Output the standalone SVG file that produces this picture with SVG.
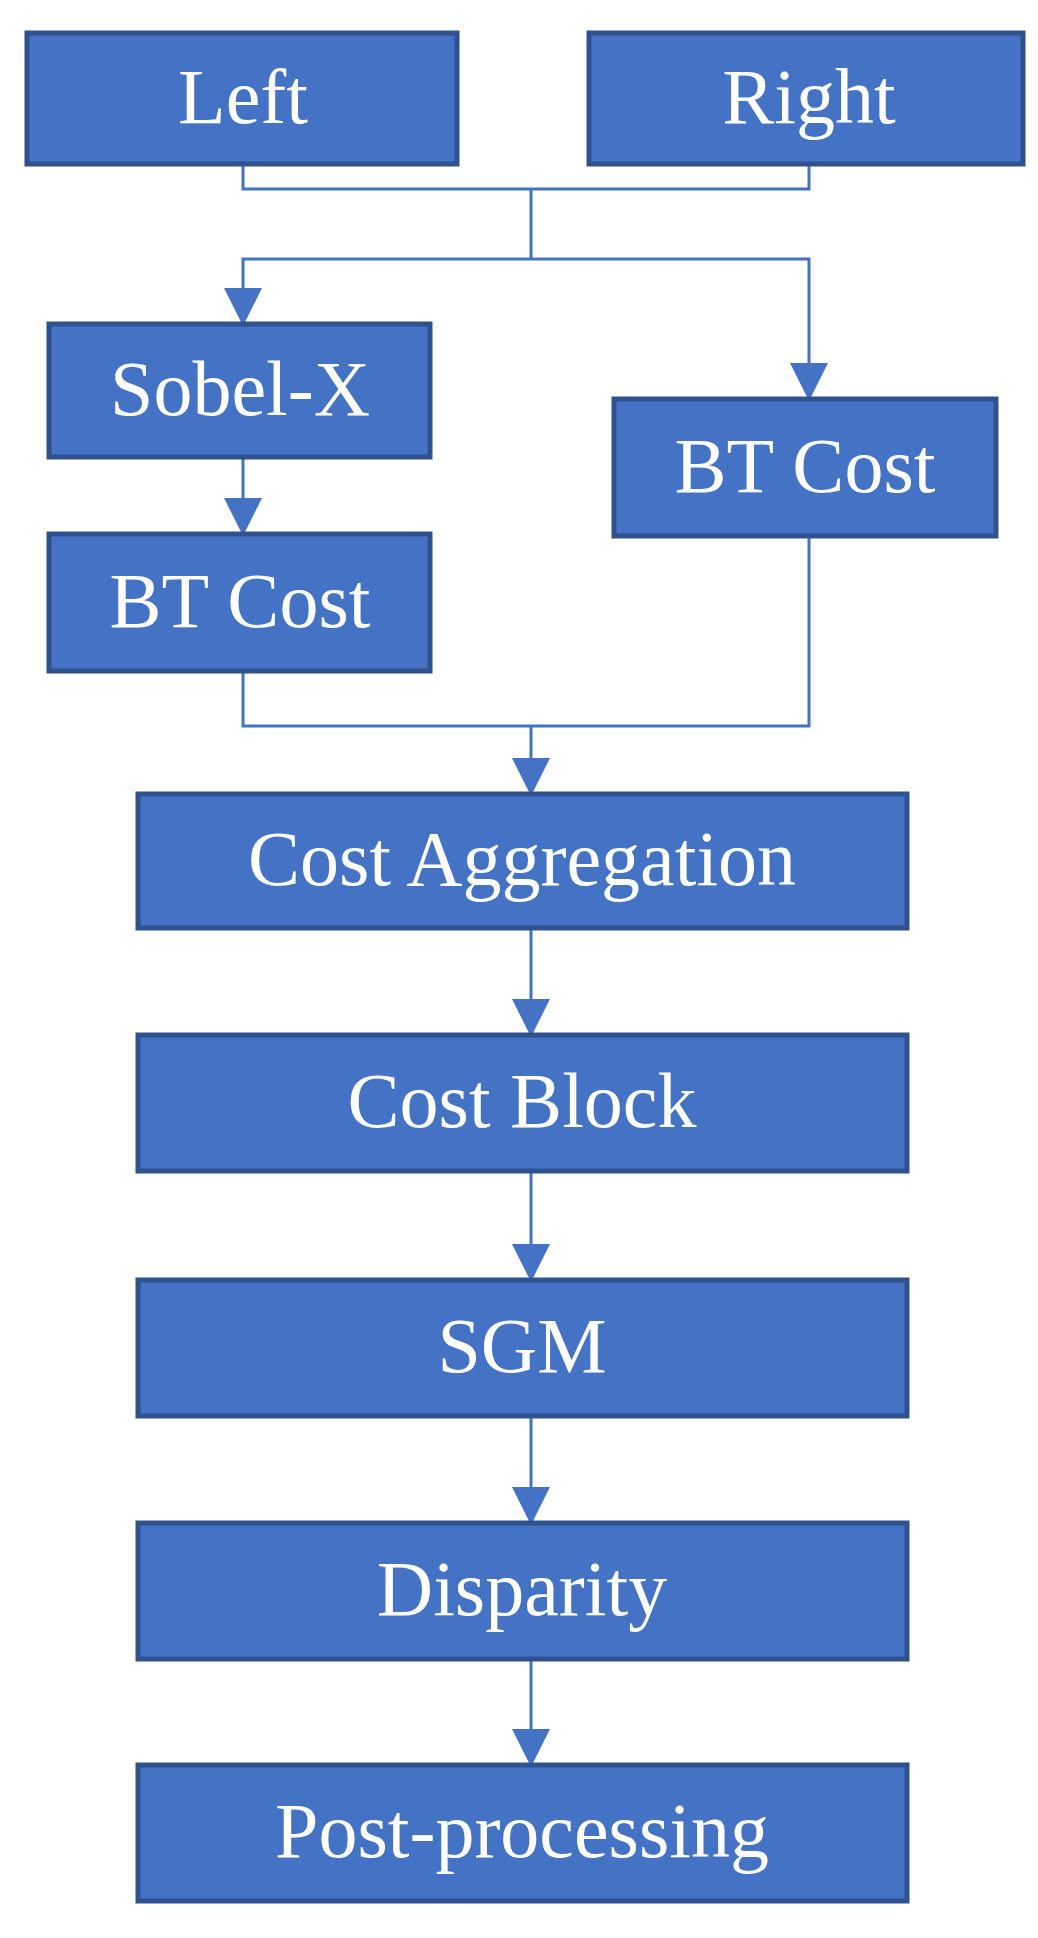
<svg xmlns="http://www.w3.org/2000/svg" width="1038" height="1938" viewBox="0 0 1038 1938">
<style>
.n rect{fill:#4472C4;stroke:#2F528F;stroke-width:5}
.n text{fill:#fff;font-family:"Liberation Serif","DejaVu Serif",serif;font-size:78px;text-anchor:middle;dominant-baseline:central}
.c path{fill:none;stroke:#4472C4;stroke-width:3}
</style>
<defs><marker id="a" markerUnits="userSpaceOnUse" markerWidth="40" markerHeight="40" refX="36" refY="19" orient="auto"><path d="M0,0 L38,19 L0,38 Z" fill="#4472C4"/></marker></defs>
<rect width="1038" height="1938" fill="#fff"/>
<g class="c">
<path d="M243,164 V189 H809 V164"/>
<path d="M531,189 V259"/>
<path d="M531,259 H243 V324" marker-end="url(#a)"/>
<path d="M531,259 H809 V399" marker-end="url(#a)"/>
<path d="M243,457 V534" marker-end="url(#a)"/>
<path d="M243,671 V726 H809 V536"/>
<path d="M531,726 V794" marker-end="url(#a)"/>
<path d="M531,928 V1035" marker-end="url(#a)"/>
<path d="M531,1171 V1280" marker-end="url(#a)"/>
<path d="M531,1416 V1523" marker-end="url(#a)"/>
<path d="M531,1659 V1765" marker-end="url(#a)"/>
</g>
<g id="left" class="n"><rect x="27" y="33" width="430" height="131"/><text x="243" y="96">Left</text></g>
<g id="right" class="n"><rect x="589" y="33" width="434" height="131"/><text x="809" y="96">Right</text></g>
<g id="sobel" class="n"><rect x="49" y="324" width="381" height="133"/><text x="240" y="388">Sobel-X</text></g>
<g id="bt1" class="n"><rect x="49" y="534" width="381" height="137"/><text x="240" y="600">BT Cost</text></g>
<g id="bt2" class="n"><rect x="614" y="399" width="382" height="137"/><text x="805" y="465">BT Cost</text></g>
<g id="agg" class="n"><rect x="138" y="794" width="769" height="134"/><text x="522" y="858">Cost Aggregation</text></g>
<g id="block" class="n"><rect x="138" y="1035" width="769" height="136"/><text x="522" y="1100">Cost Block</text></g>
<g id="sgm" class="n"><rect x="138" y="1280" width="769" height="136"/><text x="522" y="1345">SGM</text></g>
<g id="disp" class="n"><rect x="138" y="1523" width="769" height="136"/><text x="522" y="1588">Disparity</text></g>
<g id="post" class="n"><rect x="138" y="1765" width="769" height="136"/><text x="522" y="1830">Post-processing</text></g>
</svg>
